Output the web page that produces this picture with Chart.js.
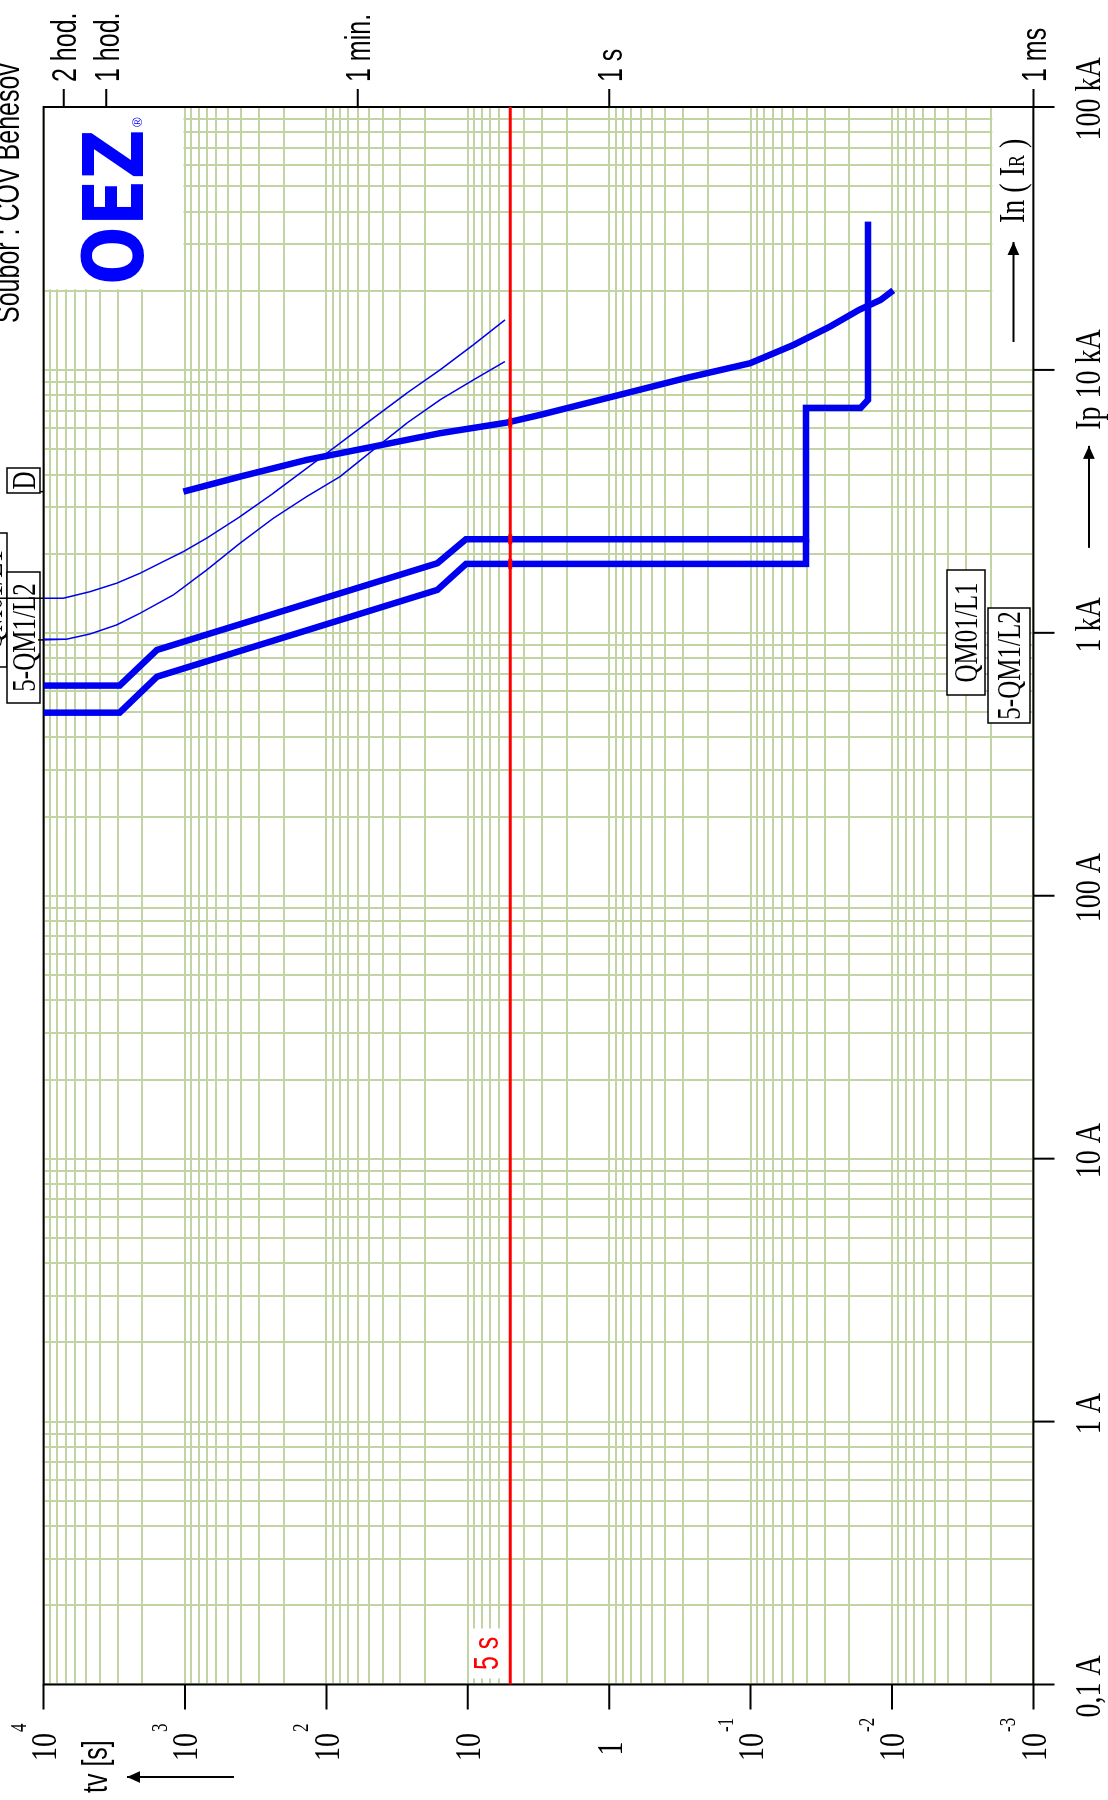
<!DOCTYPE html>
<html>
<head>
<meta charset="utf-8">
<script src="https://cdn.jsdelivr.net/npm/chart.js@4/dist/chart.umd.min.js"></script>
<style>
  html, body { margin: 0; padding: 0; width: 1108px; height: 1800px; overflow: hidden; background: #fff; }
  #sheet { position: absolute; left: 0; top: 0; width: 1800px; height: 1108px;
           transform-origin: 0 0; transform: translate(0, 1800px) rotate(-90deg); }
</style>
</head>
<body>
<div id="sheet"><canvas id="tc" width="1800" height="1108"></canvas></div>
<script>
// ---- axes ----
const currentTicks = [0.1, 1, 10, 100, 1000, 10000, 100000];
const currentTickLabels = ['0,1 A', '1 A', '10 A', '100 A', '1 kA', '10 kA', '100 kA'];
const timeTicks = [10000, 1000, 100, 10, 1, 0.1, 0.01, 0.001];
const timeTickBase = ['10', '10', '10', '10', '1', '10', '10', '10'];
const timeTickExp = ['4', '3', '2', '', '', '-1', '-2', '-3'];
const timeMarks = [7200, 3600, 60, 1, 0.001];
const timeMarkLabels = ['2 hod.', '1 hod.', '1 min.', '1 s', '1 ms'];

// ---- QM01/L1 breaker (current A, time s) ----
const qm01Current = [630, 630, 861, 1840, 2270, 2270, 7170, 7170, 7690, 36650];
const qm01Time = [10000, 2900, 1578, 16.4, 10.3, 0.0406, 0.0406, 0.0167, 0.0148, 0.0148];

// ---- 5-QM1/L2 breaker ----
const qm1Current = [497, 497, 681, 1457, 1829, 1829, 2270];
const qm1Time = [10000, 2900, 1578, 16.4, 10.3, 0.0406, 0.0406];

// ---- thermal curves ----
const thermal1Current = [1354, 1354, 1434, 1545, 1685, 1840, 2037, 2291, 2767, 3396, 4227, 5263, 6552, 8154, 10000, 12450, 15500];
const thermal1Time = [10000, 7257, 4697, 3041, 2081, 1502, 1028, 702, 408, 237.4, 137.8, 80.1, 46.6, 27.05, 15.73, 9.14, 5.46];
const thermal2Current = [940, 946, 990, 1072, 1187, 1394, 1735, 2192, 2728, 3297, 3929, 4963, 6270, 7690, 9163, 10760];
const thermal2Time = [10000, 6866, 4697, 3041, 2081, 1209, 702, 408, 237.4, 137.8, 80.1, 46.6, 27.05, 15.73, 9.14, 5.46];

// ---- fuse D ----
const fuseCurrent = [3444, 3929, 4547, 5109, 5745, 6303, 6743, 7913, 9298, 10600, 12450, 14610, 16910, 18460, 20070];
const fuseTime = [1028, 408, 137.8, 46.6, 15.73, 5.31, 3.09, 0.948, 0.291, 0.101, 0.0497, 0.02745, 0.01712, 0.01204, 0.00979];

// ---- disconnection time and crossings ----
const faultTime = 5;
const faultLabel = '5 s';
const tripCurrent = [2270, 1829, 6303];

const GRID = '#c3d4a4';
const BLUE = '#0000f0';
const RED = '#ff0000';
const SANS = '"Liberation Sans", Arial, sans-serif';
const SERIF = '"Liberation Serif", "Times New Roman", serif';

const pts = (cs, ts) => cs.map((c, i) => ({ x: c, y: ts[i] }));

function gridValues(lo, hi) {
  const out = [];
  for (let k = Math.round(Math.log10(lo)); k <= Math.round(Math.log10(hi)); k++) {
    for (let m = 1; m <= 9; m++) {
      const v = m * Math.pow(10, k);
      if (v >= lo * 0.999 && v <= hi * 1.001) out.push(v);
    }
  }
  return out;
}

// text with taller glyphs (vertical stretch sy)
function txt(ctx, s, x, y, size, family, sy, align, color, weight) {
  ctx.save();
  ctx.translate(x, y);
  ctx.scale(1, sy);
  ctx.font = (weight || 'normal') + ' ' + size + 'px ' + family;
  ctx.textAlign = align || 'left';
  ctx.textBaseline = 'alphabetic';
  ctx.fillStyle = color || '#000';
  ctx.fillText(s, 0, 0);
  ctx.restore();
}
function measure(ctx, s, size, family, weight) {
  ctx.save();
  ctx.font = (weight || 'normal') + ' ' + size + 'px ' + family;
  const w = ctx.measureText(s).width;
  ctx.restore();
  return w;
}
function arrow(ctx, x1, y1, x2, y2, head) {
  ctx.beginPath(); ctx.moveTo(x1, y1); ctx.lineTo(x2, y2); ctx.stroke();
  const a = Math.atan2(y2 - y1, x2 - x1), hw = head * 0.45;
  ctx.beginPath();
  ctx.moveTo(x2, y2);
  ctx.lineTo(x2 - head * Math.cos(a) + hw * Math.sin(a), y2 - head * Math.sin(a) - hw * Math.cos(a));
  ctx.lineTo(x2 - head * Math.cos(a) - hw * Math.sin(a), y2 - head * Math.sin(a) + hw * Math.cos(a));
  ctx.closePath(); ctx.fill();
}
function boxLabel(ctx, s, bx, by, bw, bh) {
  ctx.fillStyle = '#fff'; ctx.fillRect(bx, by, bw, bh);
  ctx.strokeStyle = '#000'; ctx.lineWidth = 1.5; ctx.strokeRect(bx, by, bw, bh);
  txt(ctx, s, bx + bw / 2, by + bh / 2 + 11, 25, SERIF, 1.35, 'center');
}

const decor = {
  id: 'decor',
  beforeDatasetsDraw(chart) {
    const { ctx, chartArea: a, scales: { x, y } } = chart;
    ctx.save();
    ctx.fillStyle = '#fff';
    // free space for the logo
    let x0 = x.getPixelForValue(20000) + 1.5;
    let y1 = y.getPixelForValue(1000) - 1.5;
    ctx.fillRect(x0, a.top + 1, a.right - 1 - x0, y1 - a.top - 1);
    // free space for the In(IR) caption
    x0 = x.getPixelForValue(10000) + 1.5;
    const y0 = y.getPixelForValue(0.002) + 1.5;
    ctx.fillRect(x0, y0, a.right - 1 - x0, a.bottom - 1 - y0);
    // background of the disconnection time label
    const y5 = y.getPixelForValue(faultTime);
    ctx.fillRect(a.left + 6, y5 - 39, 50, 36);

    // frame and ticks
    ctx.strokeStyle = '#000';
    ctx.lineWidth = 2;
    ctx.strokeRect(a.left, a.top, a.right - a.left, a.bottom - a.top);
    ctx.beginPath();
    timeTicks.forEach(t => { const p = y.getPixelForValue(t); ctx.moveTo(a.left - 25, p); ctx.lineTo(a.left, p); });
    currentTicks.forEach(c => { const p = x.getPixelForValue(c); ctx.moveTo(p, a.bottom); ctx.lineTo(p, a.bottom + 21); });
    timeMarks.forEach(t => { const p = y.getPixelForValue(t); ctx.moveTo(a.right, p); ctx.lineTo(a.right + 18, p); });
    ctx.stroke();
    ctx.restore();
  },
  afterDatasetsDraw(chart) {
    const { ctx, chartArea: a, scales: { x, y } } = chart;
    ctx.save();

    // time axis labels
    timeTicks.forEach((t, i) => {
      const p = y.getPixelForValue(t);
      if (timeTickBase[i] === '1') {
        txt(ctx, '1', a.left - 64, p + 12.3, 28, SERIF, 1.3, 'center');
      } else {
        txt(ctx, timeTickBase[i], a.left - 48.5, p + 12.3, 28, SERIF, 1.3, 'right');
        if (timeTickExp[i]) txt(ctx, timeTickExp[i], a.left - 47.5, p - 18, 17, SERIF, 1.3, 'left');
      }
    });

    // special time marks
    timeMarks.forEach((t, i) => {
      const p = y.getPixelForValue(t);
      txt(ctx, timeMarkLabels[i], a.right + 25, p + 12.3, 25, SANS, 1.38, 'left');
    });

    // current axis labels
    const baseY = a.bottom + 66.5;
    ctx.fillStyle = '#000'; ctx.strokeStyle = '#000'; ctx.lineWidth = 2;
    currentTicks.forEach((c, i) => {
      const p = x.getPixelForValue(c);
      if (c === 10000) {
        const cx = p + 6;
        txt(ctx, currentTickLabels[i], cx, baseY, 28, SERIF, 1.3, 'center');
        const w = measure(ctx, currentTickLabels[i], 28, SERIF);
        const ipRight = cx - w / 2 - 8;
        txt(ctx, 'Ip', ipRight, baseY, 28, SERIF, 1.3, 'right');
        const ipLeft = ipRight - measure(ctx, 'Ip', 28, SERIF);
        arrow(ctx, ipLeft - 118, baseY - 11, ipLeft - 16, baseY - 11, 13);
      } else {
        txt(ctx, currentTickLabels[i], p + (i === 0 ? -2 : 8), baseY, 28, SERIF, 1.3, 'center');
      }
    });

    // In(IR) caption inside the plot
    {
      const bx = 1577, by = a.bottom - 9;
      txt(ctx, 'In ( I', bx, by, 28, SERIF, 1.3, 'left');
      let w = measure(ctx, 'In ( I', 28, SERIF);
      txt(ctx, 'R', bx + w, by, 18, SERIF, 1.3, 'left');
      w += measure(ctx, 'R', 18, SERIF);
      txt(ctx, ' )', bx + w, by, 28, SERIF, 1.3, 'left');
      arrow(ctx, bx - 119, by - 11, bx - 19, by - 11, 13);
    }

    // disconnection time label
    const y5 = y.getPixelForValue(faultTime);
    txt(ctx, faultLabel, a.left + 14.5, y5 - 12.4, 25, SANS, 1.38, 'left', RED);

    // axis caption tv [s]
    txt(ctx, 'tv [s]', 7, 107, 25, SANS, 1.38, 'left');
    arrow(ctx, 23, 234, 23, 127, 13);

    // file caption
    txt(ctx, 'Soubor : ČOV Benešov', 1477, 18.5, 25, SANS, 1.38, 'left');

    // OEZ logo
    txt(ctx, 'OEZ', 1515, 143, 69, '"DejaVu Sans", sans-serif', 1.2, 'left', '#0000ff', 'bold');
    txt(ctx, '®', 1673, 142, 13, SANS, 1, 'left', '#0000ff');

    // curve labels at the start of the curves
    boxLabel(ctx, 'QM01/L1', 1133, -26, 134, 33);
    boxLabel(ctx, '5-QM1/L2', 1097, 7, 131, 33);
    boxLabel(ctx, 'D', 1307, 7, 25, 33);
    ctx.strokeStyle = '#000'; ctx.lineWidth = 1.5;
    ctx.beginPath();
    let p = x.getPixelForValue(thermal1Current[0]); ctx.moveTo(p, 0); ctx.lineTo(p, a.top);
    p = x.getPixelForValue(thermal2Current[0]); ctx.moveTo(p, 38); ctx.lineTo(p, a.top);
    p = x.getPixelForValue(fuseCurrent[0]); ctx.moveTo(p, 40); ctx.lineTo(p, a.top);
    ctx.stroke();

    // curve labels at the short-time end
    boxLabel(ctx, 'QM01/L1', 1105, 947, 125, 38);
    boxLabel(ctx, '5-QM1/L2', 1077, 988, 115, 42);

    ctx.restore();
  }
};

const line = (data, width, order) => ({
  data, showLine: true, borderColor: BLUE, backgroundColor: BLUE, borderWidth: width,
  pointRadius: 0, tension: 0, fill: false, order
});

new Chart(document.getElementById('tc'), {
  type: 'scatter',
  data: {
    datasets: [
      { data: tripCurrent.map(c => ({ x: c, y: faultTime })), showLine: false, pointStyle: 'line',
        pointRadius: 5, pointBorderWidth: 4, borderColor: RED, backgroundColor: RED, order: 0 },
      line(pts(qm01Current, qm01Time), 6.5, 1),
      line(pts(qm1Current, qm1Time), 6.5, 1),
      line(pts(fuseCurrent, fuseTime), 6.5, 1),
      line(pts(thermal1Current, thermal1Time), 1.5, 2),
      line(pts(thermal2Current, thermal2Time), 1.5, 2),
      { data: [{ x: 0.1, y: faultTime }, { x: 100000, y: faultTime }], showLine: true,
        borderColor: RED, borderWidth: 3, pointRadius: 0, order: 3 }
    ]
  },
  options: {
    responsive: false,
    animation: false,
    devicePixelRatio: 1,
    events: [],
    layout: { padding: { left: 115.5, right: 107, top: 43.6, bottom: 74.6 } },
    plugins: { legend: { display: false }, tooltip: { enabled: false } },
    scales: {
      x: {
        type: 'logarithmic', min: 0.1, max: 100000,
        afterBuildTicks(s) { s.ticks = gridValues(0.1, 100000).map(v => ({ value: v })); },
        afterFit(s) { s.height = 0; },
        ticks: { display: false },
        grid: { color: GRID, lineWidth: 2, drawTicks: false },
        border: { display: false }
      },
      y: {
        type: 'logarithmic', min: 0.001, max: 10000,
        afterBuildTicks(s) { s.ticks = gridValues(0.001, 10000).map(v => ({ value: v })); },
        afterFit(s) { s.width = 0; },
        ticks: { display: false },
        grid: { color: GRID, lineWidth: 2, drawTicks: false },
        border: { display: false }
      }
    }
  },
  plugins: [decor]
});
</script>
</body>
</html>
